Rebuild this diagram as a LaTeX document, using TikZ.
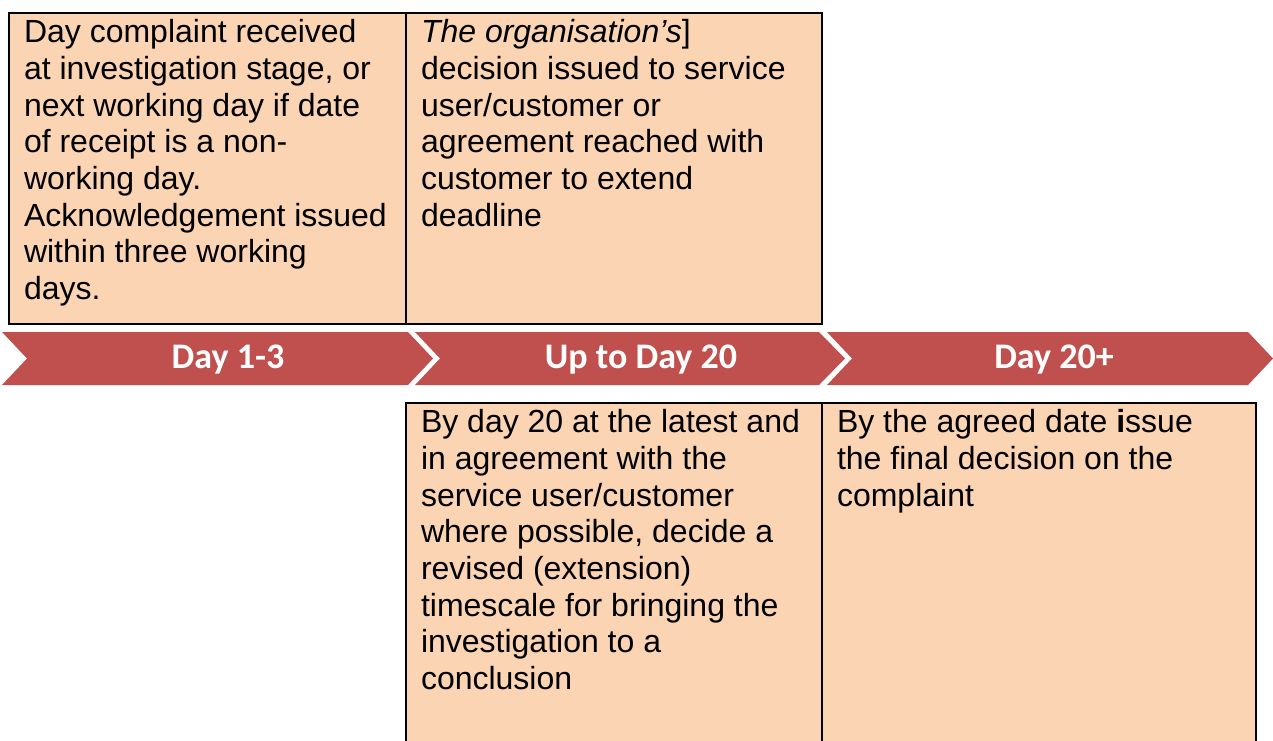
\documentclass[tikz,border=0pt]{standalone}
\usepackage{fontspec}
\setmainfont{Liberation Sans}
\newfontfamily\dayfont{Carlito}
\usepackage{tikz}
\usetikzlibrary{positioning}
\definecolor{boxfill}{HTML}{FBD4B4}
\definecolor{chevred}{HTML}{C0504D}
% text of a stage box: width, height, lines
\newcommand{\stagetext}[3]{\parbox[t][#2][t]{#1}{\raggedright\strut #3}}
\tikzset{
    stagebox/.style={
           rectangle,
           draw=black, line width=2pt,
           fill=boxfill,
           anchor=north west,
           outer sep=0pt,
           inner xsep=15pt,
           inner ysep=4pt,
           font=\fontsize{32}{36.7}\selectfont,
           },
    chevron/.style={
           fill=chevred,
           },
    daylabel/.style={
           text=white,
           anchor=base,
           inner sep=0pt,
           font=\dayfont\bfseries\fontsize{36}{40}\selectfont,
           }
}

\begin{document}
\begin{tikzpicture}[x=1pt,y=-1pt]
\path[use as bounding box, clip] (0,0) rectangle (1273,740);
% what happens before day 20
\node[stagebox] (ack) at (9,13) {\stagetext{367pt}{303pt}{Day complaint received\\
at investigation stage, or\\
next working day if date\\
of receipt is a non-\\
working day.\\
Acknowledgement issued\\
within three working\\
days.}};
\node[stagebox] (decision) at (ack.north east) {\stagetext{386pt}{303pt}{\textit{The organisation’s}]\\
decision issued to service\\
user/customer or\\
agreement reached with\\
customer to extend\\
deadline}};
% timeline
\fill[chevron] (2,332) -- (408,332) -- (433,358.5) -- (408,385) -- (2,385) -- (27,358.5) -- cycle;
\fill[chevron] (415,332) -- (819,332) -- (845,358.5) -- (819,385) -- (415,385) -- (440,358.5) -- cycle;
\fill[chevron] (827,332) -- (1248,332) -- (1273,358.5) -- (1248,385) -- (827,385) -- (852,358.5) -- cycle;
\node[daylabel] (d1) at (228,368) {Day 1-3};
\node[daylabel] (d2) at (641,368) {Up to Day 20};
\node[daylabel] (d3) at (1054,368) {Day 20+};
% extension
\node[stagebox] (extend) at (406,403) {\stagetext{386pt}{334pt}{By day 20 at the latest and\\
in agreement with the\\
service user/customer\\
where possible, decide a\\
revised (extension)\\
timescale for bringing the\\
investigation to a\\
conclusion}};
\node[stagebox] (final) at (extend.north east) {\stagetext{404pt}{334pt}{By the agreed date \textbf{i}ssue\\
the final decision on the\\
complaint}};
\end{tikzpicture}
\end{document}
